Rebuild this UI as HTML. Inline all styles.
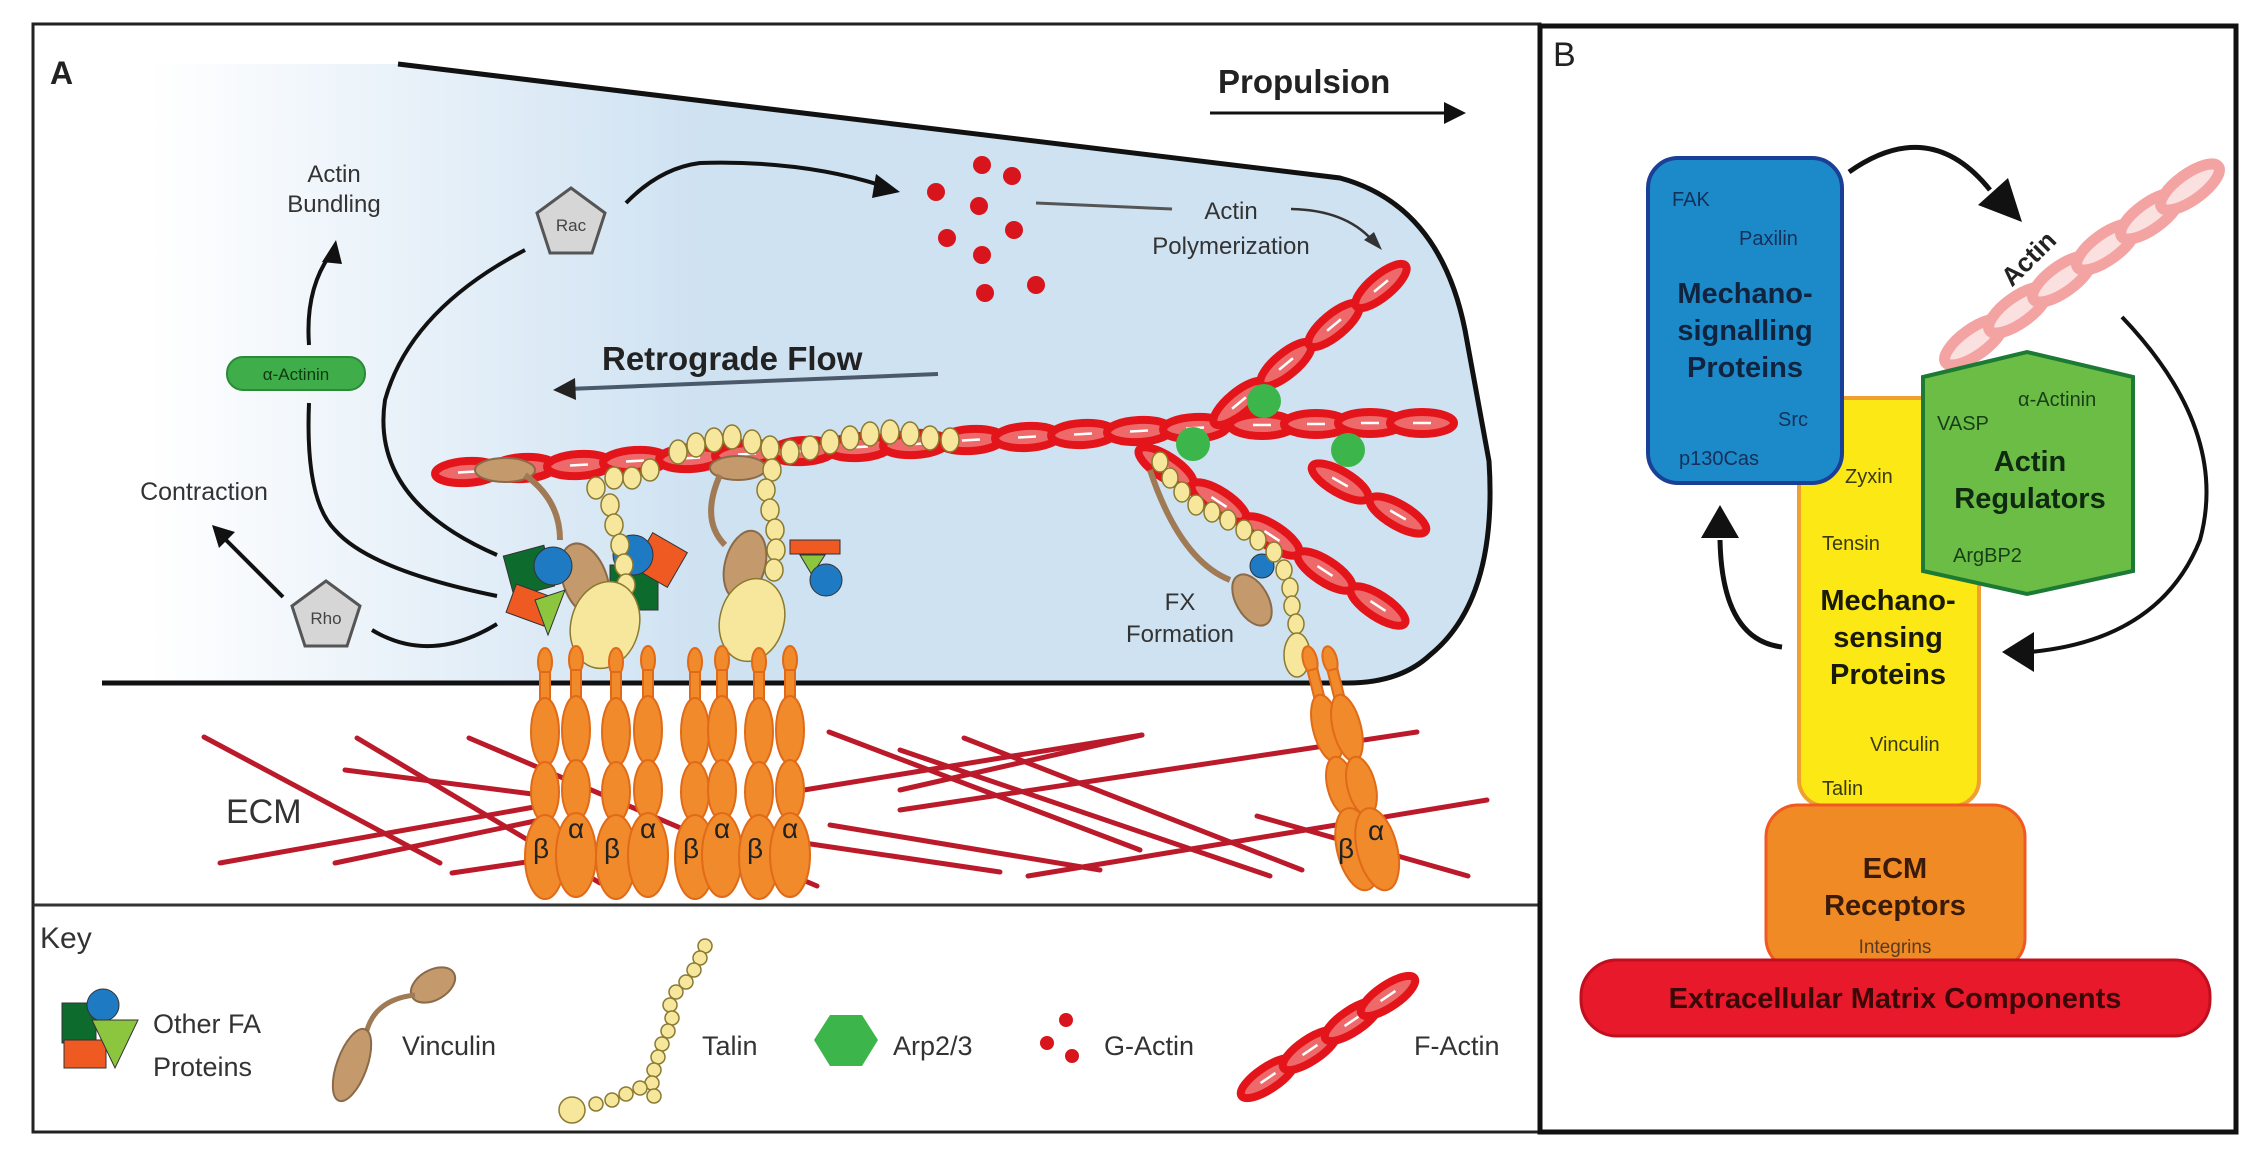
<!DOCTYPE html>
<html><head><meta charset="utf-8"><style>
html,body{margin:0;padding:0;background:#fff}
svg{display:block}
text{font-family:"Liberation Sans",sans-serif}
</style></head><body>
<svg width="2264" height="1172" viewBox="0 0 2264 1172" xmlns="http://www.w3.org/2000/svg">
<defs>
<linearGradient id="cell" gradientUnits="userSpaceOnUse" x1="150" y1="0" x2="700" y2="0">
<stop offset="0" stop-color="#ffffff"/><stop offset="1" stop-color="#cfe2f2"/>
</linearGradient>
<g id="lk"><ellipse rx="32" ry="11" fill="#ee6a6a" stroke="#e3151b" stroke-width="8"/><line x1="-9" y1="0" x2="9" y2="0" stroke="#fff" stroke-width="2.5"/></g>
<g id="lkp"><ellipse rx="35" ry="13" fill="#fbe0e0" stroke="#f4a3a3" stroke-width="11"/></g>
<g id="ig">
<ellipse cx="0" cy="0" rx="7" ry="14"/>
<rect x="-5" y="10" width="10" height="30"/>
<ellipse cx="0" cy="70" rx="14" ry="34"/>
<ellipse cx="0" cy="130" rx="14" ry="30"/>
<ellipse cx="0" cy="195" rx="20" ry="42"/>
</g>
</defs>

<!-- Panel A frame -->
<rect x="33" y="24" width="1507" height="1108" fill="#fff" stroke="#222" stroke-width="3"/>
<line x1="33" y1="905" x2="1540" y2="905" stroke="#333" stroke-width="3"/>
<text x="50" y="84" font-size="32" font-weight="bold" fill="#222">A</text>

<!-- cell -->
<path d="M398,64 L1340,178 Q1440,205 1465,330 L1489,461 Q1498,600 1430,655 Q1400,683 1347,683 L102,683 L102,64 Z" fill="url(#cell)"/>
<path d="M398,64 L1340,178 Q1440,205 1465,330 L1489,461 Q1498,600 1430,655 Q1400,683 1347,683 L102,683" fill="none" stroke="#111" stroke-width="5"/>

<!-- Propulsion -->
<text x="1218" y="93" font-size="33" font-weight="bold" fill="#222">Propulsion</text>
<line x1="1210" y1="113" x2="1450" y2="113" stroke="#111" stroke-width="3"/>
<polygon points="1466,113 1444,102 1444,124" fill="#111"/>

<!-- Actin bundling -->
<text x="334" y="182" font-size="24" fill="#333" text-anchor="middle">Actin</text>
<text x="334" y="212" font-size="24" fill="#333" text-anchor="middle">Bundling</text>
<path d="M309,345 Q305,290 330,255" fill="none" stroke="#111" stroke-width="4"/>
<polygon points="336,240 322,262 342,264" fill="#111"/>
<rect x="227" y="357" width="138" height="33" rx="16" fill="#3fae4a" stroke="#2a8a35" stroke-width="2"/>
<text x="296" y="380" font-size="17" fill="#0d3a12" text-anchor="middle">α-Actinin</text>
<path d="M309,403 Q305,500 335,530 Q370,570 497,596" fill="none" stroke="#111" stroke-width="4"/>
<text x="204" y="500" font-size="25" fill="#333" text-anchor="middle">Contraction</text>
<path d="M283,597 L224,538" stroke="#111" stroke-width="4"/>
<polygon points="212,525 219,548 235,532" fill="#111"/>
<polygon points="326,581 360,606 347,646 305,646 292,606" fill="#d6d6d6" stroke="#555" stroke-width="3"/>
<text x="326" y="624" font-size="17" fill="#444" text-anchor="middle">Rho</text>
<path d="M372,630 Q430,665 497,624" fill="none" stroke="#111" stroke-width="4"/>

<!-- Rac -->
<polygon points="571,188 605,213 592,253 550,253 537,213" fill="#d6d6d6" stroke="#555" stroke-width="3"/>
<text x="571" y="231" font-size="17" fill="#444" text-anchor="middle">Rac</text>
<path d="M525,250 Q410,310 385,400 Q370,500 497,555" fill="none" stroke="#111" stroke-width="4"/>
<path d="M626,203 Q660,168 700,163 Q800,160 880,185" fill="none" stroke="#111" stroke-width="4"/>
<polygon points="900,192 876,174 872,198" fill="#111"/>

<!-- G-actin -->
<g fill="#d8141c">
<circle cx="982" cy="165" r="9"/><circle cx="1012" cy="176" r="9"/><circle cx="936" cy="192" r="9"/>
<circle cx="979" cy="206" r="9"/><circle cx="1014" cy="230" r="9"/><circle cx="947" cy="238" r="9"/>
<circle cx="982" cy="255" r="9"/><circle cx="1036" cy="285" r="9"/><circle cx="985" cy="293" r="9"/>
</g>
<line x1="1036" y1="203" x2="1172" y2="209" stroke="#555" stroke-width="3"/>
<text x="1231" y="219" font-size="24" fill="#333" text-anchor="middle">Actin</text>
<text x="1231" y="254" font-size="24" fill="#333" text-anchor="middle">Polymerization</text>
<path d="M1291,209 Q1345,210 1372,240" fill="none" stroke="#333" stroke-width="2.5"/>
<polygon points="1382,250 1364,240 1374,232" fill="#333"/>

<!-- Retrograde -->
<text x="602" y="370" font-size="33" font-weight="bold" fill="#222">Retrograde Flow</text>
<line x1="938" y1="374" x2="568" y2="389" stroke="#4a5a6a" stroke-width="4"/>
<polygon points="553,390 575,378 576,400" fill="#222"/>

<!-- F-actin main -->
<g>
<use href="#lk" transform="translate(467,472) rotate(-3.5)"/>
<use href="#lk" transform="translate(523,468) rotate(-3.5)"/>
<use href="#lk" transform="translate(579,465) rotate(-3.5)"/>
<use href="#lk" transform="translate(635,461) rotate(-3.5)"/>
<use href="#lk" transform="translate(691,458) rotate(-3.5)"/>
<use href="#lk" transform="translate(747,454) rotate(-3.5)"/>
<use href="#lk" transform="translate(803,451) rotate(-3.5)"/>
<use href="#lk" transform="translate(859,447) rotate(-3.5)"/>
<use href="#lk" transform="translate(915,444) rotate(-3.5)"/>
<use href="#lk" transform="translate(971,440) rotate(-3.5)"/>
<use href="#lk" transform="translate(1027,437) rotate(-3)"/>
<use href="#lk" transform="translate(1083,434) rotate(-3)"/>
<use href="#lk" transform="translate(1139,431) rotate(-3)"/>
<use href="#lk" transform="translate(1195,428) rotate(-3)"/>
<use href="#lk" transform="translate(1239,403) rotate(-39.6)"/>
<use href="#lk" transform="translate(1286,364) rotate(-39.6)"/>
<use href="#lk" transform="translate(1334,325) rotate(-39.6)"/>
<use href="#lk" transform="translate(1381,286) rotate(-39.6)"/>
<use href="#lk" transform="translate(1262,425)"/>
<use href="#lk" transform="translate(1316,424)"/>
<use href="#lk" transform="translate(1370,423)"/>
<use href="#lk" transform="translate(1422,423)"/>
<use href="#lk" transform="translate(1340,482) rotate(30)"/>
<use href="#lk" transform="translate(1398,515) rotate(30)"/>
<use href="#lk" transform="translate(1166,467) rotate(33)"/>
<use href="#lk" transform="translate(1219,502) rotate(33)"/>
<use href="#lk" transform="translate(1272,536) rotate(33)"/>
<use href="#lk" transform="translate(1325,571) rotate(33)"/>
<use href="#lk" transform="translate(1378,606) rotate(33)"/>
</g>
<g fill="#3cb64a"><circle cx="1264" cy="401" r="17"/><circle cx="1193" cy="444" r="17"/><circle cx="1348" cy="450" r="17"/></g>

<!-- vinculin -->
<g fill="#c49a6c" stroke="#8a6a48" stroke-width="2">
<ellipse cx="505" cy="470" rx="30" ry="12"/>
<path d="M525,475 Q560,500 560,540" fill="none" stroke="#a07a55" stroke-width="6"/>
<ellipse cx="585" cy="580" rx="22" ry="38" transform="rotate(-20 585 580)"/>
<ellipse cx="738" cy="468" rx="28" ry="12"/>
<path d="M720,475 Q700,520 725,545" fill="none" stroke="#a07a55" stroke-width="6"/>
<ellipse cx="745" cy="565" rx="20" ry="35" transform="rotate(15 745 565)"/>
<path d="M1150,470 Q1180,560 1230,580" fill="none" stroke="#a07a55" stroke-width="6"/>
<ellipse cx="1252" cy="600" rx="16" ry="28" transform="rotate(-30 1252 600)"/>
</g>

<!-- other FA proteins cluster -->
<g stroke="#333" stroke-width="1">
<rect x="508" y="550" width="42" height="42" fill="#0d6b2e" transform="rotate(-15 529 571)"/>
<rect x="510" y="590" width="40" height="30" fill="#ef5a23" transform="rotate(20 530 605)"/>
<polygon points="535,600 565,590 548,635" fill="#8cc63f"/>
<circle cx="553" cy="566" r="19" fill="#1f7ac4"/>
<rect x="610" y="565" width="48" height="45" fill="#0d6b2e"/>
<rect x="640" y="540" width="40" height="40" fill="#ef5a23" transform="rotate(30 660 560)"/>
<circle cx="633" cy="555" r="20" fill="#1f7ac4"/>
<rect x="790" y="540" width="50" height="14" fill="#ef5a23"/>
<polygon points="800,555 825,555 812,575" fill="#8cc63f"/>
<circle cx="826" cy="580" r="16" fill="#1f7ac4"/>
<circle cx="1262" cy="566" r="12" fill="#1f7ac4"/>
</g>

<!-- talin beads -->
<g fill="#f6e79c" stroke="#8a7a30" stroke-width="1.5">
<ellipse cx="678" cy="452" rx="9" ry="12"/><ellipse cx="696" cy="445" rx="9" ry="12"/><ellipse cx="714" cy="440" rx="9" ry="12"/>
<ellipse cx="732" cy="437" rx="9" ry="12"/><ellipse cx="752" cy="442" rx="9" ry="12"/><ellipse cx="770" cy="448" rx="9" ry="12"/>
<ellipse cx="790" cy="452" rx="9" ry="12"/><ellipse cx="810" cy="448" rx="9" ry="12"/><ellipse cx="830" cy="442" rx="9" ry="12"/>
<ellipse cx="850" cy="438" rx="9" ry="12"/><ellipse cx="870" cy="434" rx="9" ry="12"/><ellipse cx="890" cy="432" rx="9" ry="12"/>
<ellipse cx="910" cy="434" rx="9" ry="12"/><ellipse cx="930" cy="438" rx="9" ry="12"/><ellipse cx="950" cy="440" rx="9" ry="12"/>
<ellipse cx="596" cy="488" rx="9" ry="11"/><ellipse cx="614" cy="478" rx="9" ry="11"/><ellipse cx="632" cy="478" rx="9" ry="11"/>
<ellipse cx="650" cy="470" rx="9" ry="11"/><ellipse cx="610" cy="505" rx="9" ry="11"/><ellipse cx="614" cy="525" rx="9" ry="11"/>
<ellipse cx="620" cy="545" rx="9" ry="11"/><ellipse cx="624" cy="565" rx="9" ry="11"/><ellipse cx="626" cy="585" rx="9" ry="11"/>
<ellipse cx="772" cy="470" rx="9" ry="11"/><ellipse cx="766" cy="490" rx="9" ry="11"/><ellipse cx="770" cy="510" rx="9" ry="11"/>
<ellipse cx="775" cy="530" rx="9" ry="11"/><ellipse cx="776" cy="550" rx="9" ry="11"/><ellipse cx="774" cy="570" rx="9" ry="11"/>
<ellipse cx="1160" cy="462" rx="8" ry="10"/><ellipse cx="1170" cy="478" rx="8" ry="10"/><ellipse cx="1182" cy="492" rx="8" ry="10"/>
<ellipse cx="1196" cy="505" rx="8" ry="10"/><ellipse cx="1212" cy="512" rx="8" ry="10"/><ellipse cx="1228" cy="520" rx="8" ry="10"/>
<ellipse cx="1244" cy="530" rx="8" ry="10"/><ellipse cx="1258" cy="540" rx="8" ry="10"/><ellipse cx="1274" cy="552" rx="8" ry="10"/>
<ellipse cx="1284" cy="570" rx="8" ry="10"/><ellipse cx="1290" cy="588" rx="8" ry="10"/><ellipse cx="1292" cy="606" rx="8" ry="10"/>
<ellipse cx="1296" cy="624" rx="8" ry="10"/>
<ellipse cx="605" cy="625" rx="34" ry="44" transform="rotate(15 605 625)"/>
<ellipse cx="752" cy="620" rx="32" ry="42" transform="rotate(15 752 620)"/>
<ellipse cx="1297" cy="655" rx="13" ry="22"/>
</g>

<!-- ECM lines -->
<g stroke="#bb1a2a" stroke-width="5" stroke-linecap="round">
<line x1="204" y1="737" x2="440" y2="863"/>
<line x1="357" y1="738" x2="600" y2="883"/>
<line x1="345" y1="770" x2="540" y2="795"/>
<line x1="220" y1="863" x2="540" y2="806"/>
<line x1="335" y1="863" x2="540" y2="820"/>
<line x1="452" y1="873" x2="540" y2="860"/>
<line x1="469" y1="738" x2="817" y2="886"/>
<line x1="804" y1="790" x2="1142" y2="735"/>
<line x1="829" y1="732" x2="1140" y2="850"/>
<line x1="804" y1="843" x2="1000" y2="872"/>
<line x1="964" y1="738" x2="1302" y2="870"/>
<line x1="900" y1="790" x2="1142" y2="735"/>
<line x1="900" y1="810" x2="1417" y2="732"/>
<line x1="1028" y1="876" x2="1487" y2="800"/>
<line x1="900" y1="750" x2="1270" y2="876"/>
<line x1="1257" y1="816" x2="1468" y2="876"/>
<line x1="830" y1="825" x2="1100" y2="870"/>
</g>
<text x="226" y="823" font-size="34" fill="#333">ECM</text>

<!-- integrins -->
<g fill="#f08a2a" stroke="#e06a18" stroke-width="2">
<use href="#ig" transform="translate(545,662)"/><use href="#ig" transform="translate(576,660)"/>
<use href="#ig" transform="translate(616,662)"/><use href="#ig" transform="translate(648,660)"/>
<use href="#ig" transform="translate(695,662)"/><use href="#ig" transform="translate(722,660)"/>
<use href="#ig" transform="translate(759,662)"/><use href="#ig" transform="translate(790,660)"/>
<use href="#ig" transform="translate(1310,660) rotate(-14)"/><use href="#ig" transform="translate(1330,660) rotate(-14)"/>
</g>
<g font-size="28" fill="#222" font-family="Liberation Serif, serif">
<text x="533" y="858">β</text><text x="568" y="838">α</text>
<text x="604" y="858">β</text><text x="640" y="838">α</text>
<text x="683" y="858">β</text><text x="714" y="838">α</text>
<text x="747" y="858">β</text><text x="782" y="838">α</text>
<text x="1338" y="858">β</text><text x="1368" y="840">α</text>
</g>
<text x="1180" y="610" font-size="24" fill="#333" text-anchor="middle">FX</text>
<text x="1180" y="642" font-size="24" fill="#333" text-anchor="middle">Formation</text>

<!-- Key -->
<text x="40" y="948" font-size="30" fill="#333">Key</text>
<g stroke="#333" stroke-width="1">
<rect x="62" y="1003" width="34" height="40" fill="#0d6b2e"/>
<rect x="64" y="1040" width="42" height="28" fill="#ef5a23"/>
<circle cx="103" cy="1005" r="16" fill="#1f7ac4"/>
<polygon points="92,1020 138,1020 115,1068" fill="#8cc63f"/>
</g>
<text x="153" y="1033" font-size="27" fill="#333">Other FA</text>
<text x="153" y="1076" font-size="27" fill="#333">Proteins</text>
<g fill="#c49a6c" stroke="#8a6a48" stroke-width="2">
<ellipse cx="433" cy="985" rx="24" ry="15" transform="rotate(-30 433 985)"/>
<path d="M415,995 Q370,1000 365,1040" fill="none" stroke="#a07a55" stroke-width="5"/>
<ellipse cx="352" cy="1065" rx="15" ry="38" transform="rotate(20 352 1065)"/>
</g>
<text x="402" y="1055" font-size="27" fill="#333">Vinculin</text>
<g fill="#f6e79c" stroke="#8a7a30" stroke-width="1.5">
<circle cx="705" cy="946" r="7"/><circle cx="700" cy="958" r="7"/><circle cx="694" cy="970" r="7"/><circle cx="686" cy="982" r="7"/>
<circle cx="676" cy="992" r="7"/><circle cx="670" cy="1005" r="7"/><circle cx="672" cy="1018" r="7"/><circle cx="668" cy="1031" r="7"/>
<circle cx="662" cy="1044" r="7"/><circle cx="658" cy="1057" r="7"/><circle cx="654" cy="1070" r="7"/><circle cx="652" cy="1083" r="7"/>
<circle cx="654" cy="1096" r="7"/><circle cx="640" cy="1088" r="7"/><circle cx="626" cy="1094" r="7"/><circle cx="612" cy="1100" r="7"/>
<circle cx="596" cy="1104" r="7"/><circle cx="572" cy="1110" r="13"/>
</g>
<text x="702" y="1055" font-size="27" fill="#333">Talin</text>
<polygon points="830,1015 862,1015 878,1040 862,1066 830,1066 814,1040" fill="#3cb64a"/>
<text x="893" y="1055" font-size="27" fill="#333">Arp2/3</text>
<g fill="#d8141c"><circle cx="1066" cy="1020" r="7"/><circle cx="1047" cy="1043" r="7"/><circle cx="1072" cy="1056" r="7"/></g>
<text x="1104" y="1055" font-size="27" fill="#333">G-Actin</text>
<use href="#lk" transform="translate(1268,1078) rotate(-34)"/>
<use href="#lk" transform="translate(1310,1050) rotate(-34)"/>
<use href="#lk" transform="translate(1352,1021) rotate(-34)"/>
<use href="#lk" transform="translate(1388,996) rotate(-34)"/>
<text x="1414" y="1055" font-size="27" fill="#333">F-Actin</text>

<!-- Panel B -->
<rect x="1540" y="26" width="696" height="1106" fill="#fff" stroke="#111" stroke-width="5"/>
<text x="1553" y="66" font-size="34" fill="#222">B</text>

<!-- pink actin -->
<use href="#lkp" transform="translate(1974,342) rotate(-35.8)"/>
<use href="#lkp" transform="translate(2018,310) rotate(-35.8)"/>
<use href="#lkp" transform="translate(2062,279) rotate(-35.8)"/>
<use href="#lkp" transform="translate(2106,247) rotate(-35.8)"/>
<use href="#lkp" transform="translate(2150,216) rotate(-35.8)"/>
<use href="#lkp" transform="translate(2190,187) rotate(-35.8)"/>
<text x="2032" y="266" font-size="26" font-weight="bold" fill="#222" text-anchor="middle" transform="rotate(-45 2032 262)">Actin</text>

<!-- yellow -->
<rect x="1799" y="398" width="180" height="408" rx="26" fill="#fbe814" stroke="#f0a030" stroke-width="4"/>
<!-- orange -->
<rect x="1766" y="805" width="259" height="165" rx="32" fill="#f08a24" stroke="#f05a20" stroke-width="3"/>
<!-- red bar -->
<rect x="1581" y="960" width="629" height="76" rx="36" fill="#e8192a" stroke="#c01020" stroke-width="3"/>
<!-- blue -->
<rect x="1648" y="158" width="194" height="325" rx="30" fill="#1c8ac8" stroke="#1a3f96" stroke-width="4"/>
<!-- green hex -->
<polygon points="1923,377 2027,352 2133,377 2133,571 2027,594 1923,571" fill="#6cbd45" stroke="#1d7a35" stroke-width="4"/>

<g fill="#16305a" font-size="20">
<text x="1672" y="206">FAK</text>
<text x="1739" y="245">Paxilin</text>
<text x="1778" y="426">Src</text>
<text x="1679" y="465">p130Cas</text>
</g>
<g font-weight="bold" font-size="29" fill="#10233f" text-anchor="middle">
<text x="1745" y="303">Mechano-</text>
<text x="1745" y="340">signalling</text>
<text x="1745" y="377">Proteins</text>
</g>
<g fill="#3a3a10" font-size="20">
<text x="1845" y="483">Zyxin</text>
<text x="1822" y="550">Tensin</text>
<text x="1870" y="751">Vinculin</text>
<text x="1822" y="795">Talin</text>
</g>
<g font-weight="bold" font-size="29" fill="#1a1a0a" text-anchor="middle">
<text x="1888" y="610">Mechano-</text>
<text x="1888" y="647">sensing</text>
<text x="1888" y="684">Proteins</text>
</g>
<g fill="#173f18" font-size="20">
<text x="1937" y="430">VASP</text>
<text x="2018" y="406">α-Actinin</text>
<text x="1953" y="562">ArgBP2</text>
</g>
<g font-weight="bold" font-size="29" fill="#0f2a10" text-anchor="middle">
<text x="2030" y="471">Actin</text>
<text x="2030" y="508">Regulators</text>
</g>
<g font-weight="bold" font-size="29" fill="#3a1a08" text-anchor="middle">
<text x="1895" y="878">ECM</text>
<text x="1895" y="915">Receptors</text>
</g>
<text x="1895" y="953" font-size="19" fill="#5a3a20" text-anchor="middle">Integrins</text>
<text x="1895" y="1008" font-size="29" font-weight="bold" fill="#3a0808" text-anchor="middle">Extracellular Matrix Components</text>

<!-- B arrows -->
<path d="M1849,172 Q1930,115 1990,190" fill="none" stroke="#111" stroke-width="5"/>
<polygon points="2022,222 1978,205 2008,178" fill="#111"/>
<path d="M2122,317 Q2230,430 2200,540 Q2160,640 2030,652" fill="none" stroke="#111" stroke-width="4"/>
<polygon points="2002,652 2034,632 2034,672" fill="#111"/>
<path d="M1782,647 Q1722,640 1720,540" fill="none" stroke="#111" stroke-width="5"/>
<polygon points="1720,505 1701,538 1739,538" fill="#111"/>
</svg>
</body></html>
